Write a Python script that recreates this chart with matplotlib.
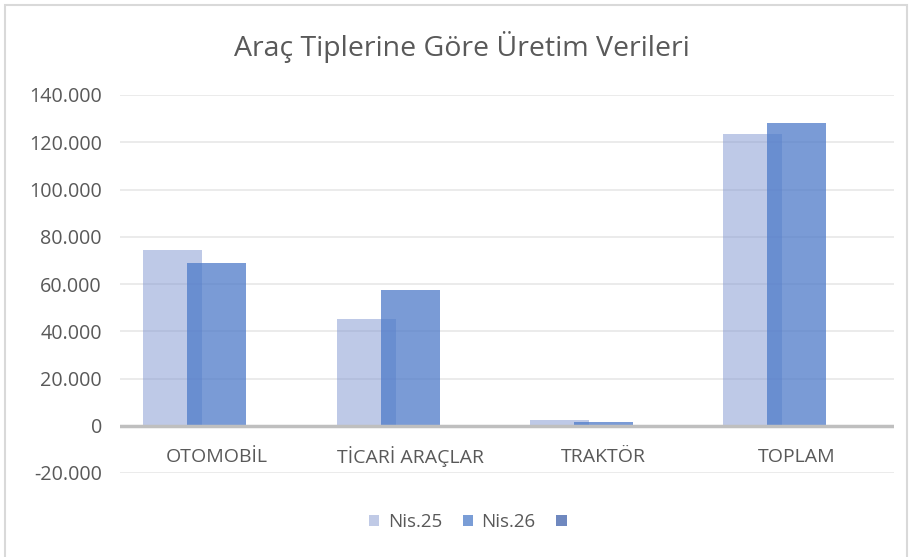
import matplotlib
matplotlib.use("Agg")
import matplotlib.pyplot as plt
from matplotlib.patches import Rectangle, Patch
from matplotlib.ticker import FuncFormatter, MultipleLocator
import numpy as np

categories = ["OTOMOBİL", "TİCARİ ARAÇLAR", "TRAKTÖR", "TOPLAM"]
nis25 = [74500, 45300, 2500, 123300]
nis26 = [68800, 57500, 1600, 128300]
series_names = ["Nis.25", "Nis.26", ""]

plt.rcParams['font.family'] = ['Open Sans', 'DejaVu Sans']
txt = '#595959'

fig = plt.figure(figsize=(9.13, 5.57), dpi=100)
ax = fig.add_axes([120/913, 1-473/557, (893.7-120)/913, (473-95)/557])

x = np.arange(len(categories))
w = 0.305
d = 0.228
ax.bar(x - d, nis25, width=w, color='#7f95d0', alpha=0.5, zorder=2,
       edgecolor='none')
ax.bar(x, nis26, width=w, color='#4d7ac9', alpha=0.75, zorder=3,
       edgecolor='none')
ax.bar(x + d, [0]*len(categories), width=w, color='#6f88bf', zorder=3)

ax.set_xlim(-0.5, 3.5)
ax.set_ylim(-20000, 140000)
ax.yaxis.set_major_locator(MultipleLocator(20000))
ax.yaxis.set_major_formatter(FuncFormatter(lambda v, p: f"{int(v):,}".replace(",", ".")))
ax.grid(axis='y', color='#e9e9e9', linewidth=1.3, zorder=0)
ax.axhline(0, color='#bfbfbf', linewidth=2.5, zorder=4)
for s in ax.spines.values():
    s.set_visible(False)
ax.tick_params(axis='both', length=0, colors=txt, labelsize=14.2)
ax.tick_params(axis='y', pad=13)
ax.set_xticks(x)
ax.set_xticklabels(categories)
for lbl in ax.get_xticklabels():
    lbl.set_visible(False)
for xi, c in zip(x, categories):
    ax.text(xi, -13100, c, ha='center', va='center', fontsize=14, color=txt)

fig.text(462/913, 1-47/557, "Araç Tiplerine Göre Üretim Verileri", ha='center', va='center',
         fontsize=20.5, color=txt)

handles = [Patch(facecolor='#c0cae6'), Patch(facecolor='#7a9dd6'), Patch(facecolor='#6f88bf')]
fig.legend(handles, series_names, loc='center', bbox_to_anchor=(472/913, 1-522/557), ncol=3,
           frameon=False, fontsize=13.5, labelcolor=txt, handlelength=0.55, handleheight=0.55,
           handletextpad=0.45, columnspacing=1.1)

fig.patches.append(Rectangle((5/913, -0.02), 902/913, 1-5/557+0.02, transform=fig.transFigure,
                             fill=False, edgecolor='#d9d9d9', linewidth=1.5))

fig.savefig("out.png", dpi=100)
